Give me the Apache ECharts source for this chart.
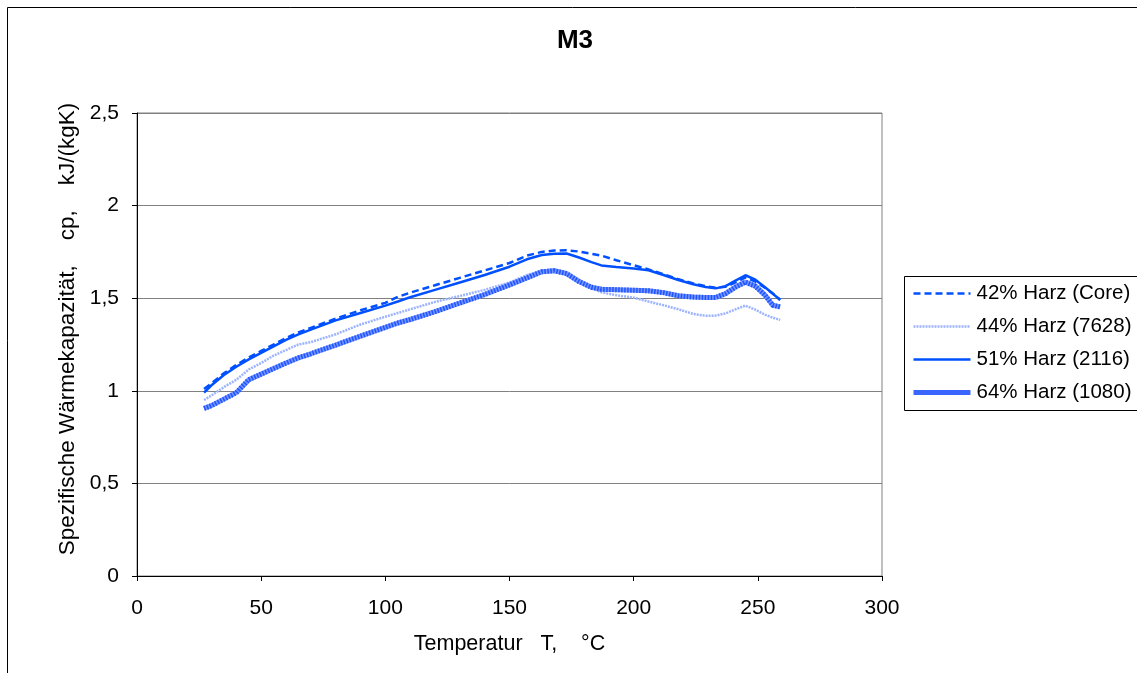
<!DOCTYPE html>
<html>
<head>
<meta charset="utf-8">
<script src="https://cdn.jsdelivr.net/npm/echarts@6/dist/echarts.min.js"></script>
<style>
  html, body { margin: 0; padding: 0; background: #fff; }
  #chart { width: 1137px; height: 673px; }
</style>
</head>
<body>
<div id="chart"></div>
<script>
// Temperatur T in °C (shared sampling for all four curves)
const temps = [27, 30, 35, 40, 45, 50, 55, 60, 65, 70, 80, 90, 100, 105, 110, 120, 130, 140, 150, 157, 163, 168, 173, 178, 183, 187, 193, 200, 206, 212, 218, 224, 229, 233, 237, 241, 245, 249, 253, 256, 259];

// Spezifische Wärmekapazität cp in kJ/(kgK)
const harz42 = [1.01, 1.04, 1.095, 1.14, 1.18, 1.215, 1.25, 1.285, 1.315, 1.34, 1.39, 1.435, 1.475, 1.507, 1.53, 1.57, 1.61, 1.65, 1.69, 1.73, 1.75, 1.757, 1.759, 1.752, 1.74, 1.73, 1.705, 1.678, 1.655, 1.63, 1.602, 1.58, 1.565, 1.556, 1.562, 1.585, 1.612, 1.59, 1.555, 1.525, 1.492];
const harz44 = [0.95, 0.975, 1.02, 1.06, 1.115, 1.15, 1.19, 1.22, 1.25, 1.263, 1.305, 1.358, 1.40, 1.42, 1.44, 1.48, 1.512, 1.545, 1.585, 1.625, 1.648, 1.655, 1.64, 1.60, 1.555, 1.532, 1.516, 1.503, 1.482, 1.462, 1.44, 1.415, 1.405, 1.406, 1.418, 1.44, 1.46, 1.438, 1.41, 1.395, 1.383];
const harz51 = [0.99, 1.03, 1.085, 1.13, 1.17, 1.205, 1.24, 1.275, 1.305, 1.33, 1.38, 1.42, 1.46, 1.482, 1.505, 1.545, 1.585, 1.625, 1.67, 1.71, 1.733, 1.74, 1.741, 1.72, 1.695, 1.677, 1.668, 1.66, 1.651, 1.625, 1.598, 1.575, 1.56, 1.553, 1.565, 1.595, 1.624, 1.6, 1.558, 1.525, 1.49];
const harz64 = [0.905, 0.92, 0.955, 0.99, 1.06, 1.09, 1.12, 1.15, 1.178, 1.20, 1.247, 1.295, 1.342, 1.366, 1.385, 1.427, 1.474, 1.52, 1.572, 1.61, 1.643, 1.648, 1.633, 1.59, 1.559, 1.548, 1.546, 1.543, 1.54, 1.53, 1.513, 1.506, 1.504, 1.504, 1.525, 1.56, 1.587, 1.565, 1.515, 1.462, 1.453];

const seriesNames = ['42% Harz (Core)', '44% Harz (7628)', '51% Harz (2116)', '64% Harz (1080)'];

const pairs = vals => temps.map((t, i) => [t, vals[i]]);
const font = 'Arial, "Liberation Sans", sans-serif';
const comma = v => String(v).replace('.', ',');

const chart = echarts.init(document.getElementById('chart'), null, { renderer: 'canvas' });

chart.setOption({
  animation: false,
  backgroundColor: '#ffffff',
  textStyle: { fontFamily: font, color: '#000' },
  title: {
    text: 'M3',
    left: 575,
    top: 28,
    padding: 0,
    textAlign: 'center',
    textStyle: { fontFamily: font, fontSize: 26, fontWeight: 'bold', color: '#000' }
  },
  graphic: [
    {
      type: 'rect',
      shape: { x: 7.5, y: 7.5, width: 1140, height: 680 },
      style: { fill: 'none', stroke: '#000', lineWidth: 1 },
      silent: true, z: -1
    },
    {
      type: 'rect',
      shape: { x: 904.5, y: 276.5, width: 300, height: 134 },
      style: { fill: '#fff', stroke: '#000', lineWidth: 1 },
      silent: true, z: 0
    },
    {
      type: 'text',
      x: 68, y: 329,
      rotation: Math.PI / 2,
      silent: true,
      style: {
        text: 'Spezifische Wärmekapazität,    cp,    kJ/(kgK)',
        font: '22.5px Arial, "Liberation Sans", sans-serif',
        fill: '#000',
        align: 'center',
        verticalAlign: 'middle'
      }
    }
  ],
  legend: {
    orient: 'vertical',
    left: 911,
    top: 283,
    padding: 0,
    itemWidth: 57,
    itemHeight: 20,
    itemGap: 12,
    data: [
      { name: seriesNames[0] },
      { name: seriesNames[1] },
      { name: seriesNames[2] },
      { name: seriesNames[3], lineStyle: { color: '#3a66ff', width: 5, type: 'solid' } }
    ],
    itemStyle: { opacity: 0 },
    lineStyle: { width: 'inherit' },
    textStyle: { fontFamily: font, fontSize: 20.5, color: '#000', padding: [0, 0, 0, 1] },
    z: 5
  },
  grid: {
    left: 137, right: 255, top: 113, bottom: 97,
    show: true, borderColor: '#808080', borderWidth: 1
  },
  xAxis: {
    type: 'value',
    min: 0, max: 300, interval: 50,
    name: 'Temperatur   T,    °C',
    nameLocation: 'middle',
    nameGap: 57,
    nameTextStyle: { fontFamily: font, fontSize: 21.5, color: '#000' },
    axisLine: { show: true, onZero: false, lineStyle: { color: '#000', width: 1 } },
    axisTick: { show: true, inside: false, length: 5, lineStyle: { color: '#000' } },
    axisLabel: { fontFamily: font, fontSize: 21, color: '#000', margin: 22 },
    splitLine: { show: false }
  },
  yAxis: {
    type: 'value',
    min: 0, max: 2.5, interval: 0.5,
    axisLine: { show: true, lineStyle: { color: '#000', width: 1 } },
    axisTick: { show: true, inside: false, length: 5, lineStyle: { color: '#000' } },
    axisLabel: { fontFamily: font, fontSize: 21, color: '#000', margin: 18, formatter: comma },
    splitLine: { show: true, lineStyle: { color: '#808080', width: 1 } }
  },
  series: [
    {
      name: seriesNames[1], type: 'line', data: pairs(harz44),
      symbol: 'none', z: 2,
      lineStyle: { color: '#9cb3ff', width: 2.5, type: [2, 1] },
      itemStyle: { color: '#9cb3ff' }
    },
    {
      name: seriesNames[3], type: 'line', data: pairs(harz64),
      symbol: 'none', z: 3,
      lineStyle: { color: '#7895ff', width: 5 },
      itemStyle: { color: '#3f6dff' }
    },
    {
      // darker checker overlay on the 64% curve
      name: '64% Muster', type: 'line', data: pairs(harz64),
      symbol: 'none', z: 4,
      lineStyle: { color: '#1d55ff', width: 5, type: [1.5, 1.5] },
      itemStyle: { color: '#1d55ff' }
    },
    {
      name: seriesNames[2], type: 'line', data: pairs(harz51),
      symbol: 'none', z: 5,
      lineStyle: { color: '#0050ff', width: 2.5 },
      itemStyle: { color: '#0050ff' }
    },
    {
      name: seriesNames[0], type: 'line', data: pairs(harz42),
      symbol: 'none', z: 6,
      lineStyle: { color: '#0050ff', width: 2.5, type: [7, 4] },
      itemStyle: { color: '#0050ff' }
    }
  ]
});
</script>
</body>
</html>
